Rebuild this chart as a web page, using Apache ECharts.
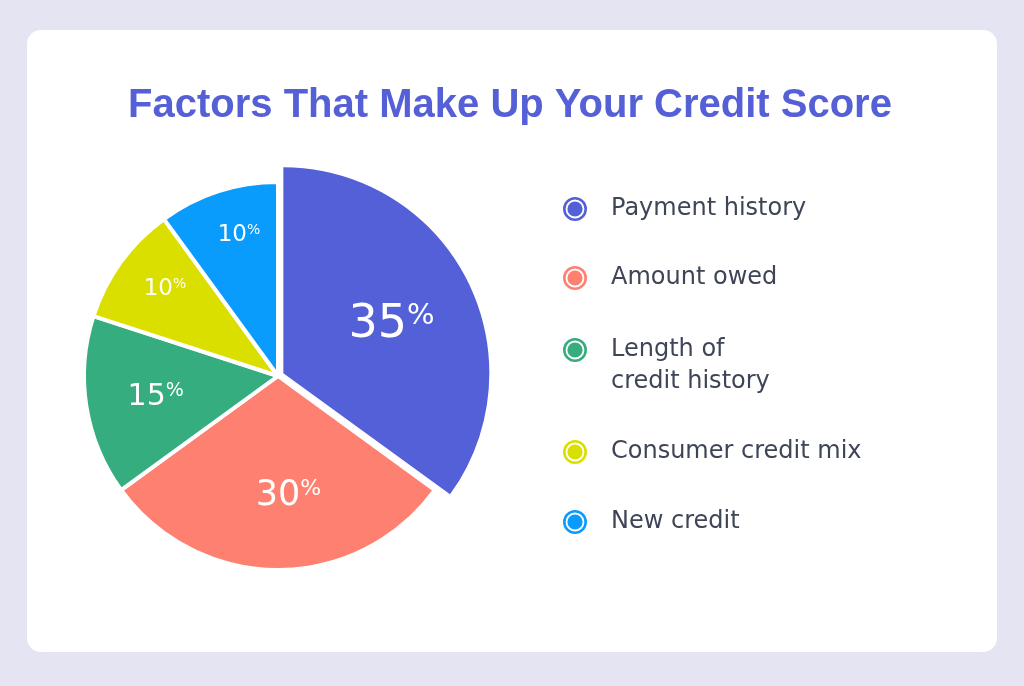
<!DOCTYPE html>
<html>
<head>
<meta charset="utf-8">
<script src="https://cdn.jsdelivr.net/npm/echarts@6/dist/echarts.min.js"></script>
<style>html,body{margin:0;padding:0;background:#e4e4f2}#c{width:1024px;height:686px}</style>
</head>
<body>
<div id="c"></div>
<script>
const title = 'Factors That Make Up Your Credit Score';
const categories = ['Payment history', 'Amount owed', 'Length of credit history', 'Consumer credit mix', 'New credit'];
const values = [35, 30, 15, 10, 10];

const colors = ['#5360d8', '#fd8071', '#35ad7f', '#dadf00', '#0a9cfd'];
const labelSize = [46, 35, 30, 23, 23];
const CENTER = [278, 376];
const FONT = 'DejaVu Sans';
const TRANSPARENT = 'rgba(0,0,0,0)';

const rich = {};
labelSize.forEach(function (s) {
  const ps = Math.round(s * 0.62);
  rich['n' + s] = { fontFamily: FONT, fontSize: s, color: '#fff', lineHeight: s };
  rich['p' + s] = { fontFamily: FONT, fontSize: ps, color: '#fff', verticalAlign: 'top', lineHeight: ps };
  rich['h' + s] = { fontFamily: FONT, fontSize: ps, color: TRANSPARENT, verticalAlign: 'top', lineHeight: ps };
});
function fmt(p) {
  const s = labelSize[p.dataIndex];
  return '{h' + s + '|%}{n' + s + '|' + p.value + '}{p' + s + '|%}';
}

// visible slices for everything except the first one (drawn larger and offset)
const mainSeries = {
  type: 'pie', center: CENTER, radius: [0, 194], startAngle: 90, clockwise: true,
  silent: true, z: 2,
  label: { show: false }, labelLine: { show: false },
  itemStyle: { borderColor: '#ffffff', borderWidth: 4 },
  data: categories.map(function (n, i) {
    return { name: n, value: values[i], itemStyle: i === 0 ? { color: TRANSPARENT, borderWidth: 0 } : { color: colors[i] } };
  })
};
const bigSeries = {
  type: 'pie', center: CENTER, radius: [0, 206], startAngle: 90, clockwise: true,
  silent: true, selectedMode: 'single', selectedOffset: 6, z: 3,
  labelLine: { show: false },
  label: { show: true, position: 'inside', formatter: fmt, rich: rich },
  itemStyle: { borderWidth: 0 },
  data: categories.map(function (n, i) {
    return { name: n, value: values[i], selected: i === 0,
      itemStyle: { color: i === 0 ? colors[0] : TRANSPARENT },
      label: { show: i === 0 } };
  })
};
function labelSeries(radius, shown) {
  return {
    type: 'pie', center: CENTER, radius: radius, startAngle: 90, clockwise: true,
    silent: true, z: 4,
    labelLine: { show: false },
    label: { show: true, position: 'inside', formatter: fmt, rich: rich },
    itemStyle: { color: TRANSPARENT, borderWidth: 0 },
    data: categories.map(function (n, i) {
      return { name: n, value: values[i], label: { show: shown.indexOf(i) >= 0 } };
    })
  };
}

const ring = 'path://M0,12A12,12 0 1,1 24,12A12,12 0 1,1 0,12Z' +
  'M2.6,12A9.4,9.4 0 1,0 21.4,12A9.4,9.4 0 1,0 2.6,12Z' +
  'M4.4,12A7.6,7.6 0 1,1 19.6,12A7.6,7.6 0 1,1 4.4,12Z';

function legend(idx, top, gap, formatter) {
  const l = {
    orient: 'vertical', left: 563, top: top, itemGap: gap, padding: 0,
    itemWidth: 62, itemHeight: 24, icon: ring, selectedMode: false,
    itemStyle: { borderWidth: 0 },
    textStyle: { fontFamily: FONT, fontSize: 24, color: '#3e4556', lineHeight: 32 },
    data: idx.map(function (i) { return { name: categories[i], itemStyle: { color: colors[i], borderWidth: 0 } }; })
  };
  if (formatter) l.formatter = formatter;
  return l;
}

const chart = echarts.init(document.getElementById('c'));
chart.setOption({
  backgroundColor: '#e4e4f2',
  animation: false,
  graphic: [{
    type: 'rect', z: -10, shape: { x: 27, y: 30, width: 970, height: 622, r: 14 },
    style: { fill: '#ffffff' }
  }],
  title: {
    text: title, left: 505, textAlign: 'center', top: 81,
    textStyle: { fontFamily: 'Liberation Sans', fontWeight: 'bold', fontSize: 40, color: '#5560d6' }
  },
  legend: [
    legend([0, 1], 193, 37),
    legend([2], 302, 10, function () { return ' \nLength of\ncredit history'; }),
    legend([3, 4], 436, 38)
  ],
  series: [
    mainSeries,
    bigSeries,
    labelSeries([42, 192], [1]),
    labelSeries([68, 192], [2]),
    labelSeries([98, 192], [3, 4])
  ]
});
</script>
</body>
</html>
